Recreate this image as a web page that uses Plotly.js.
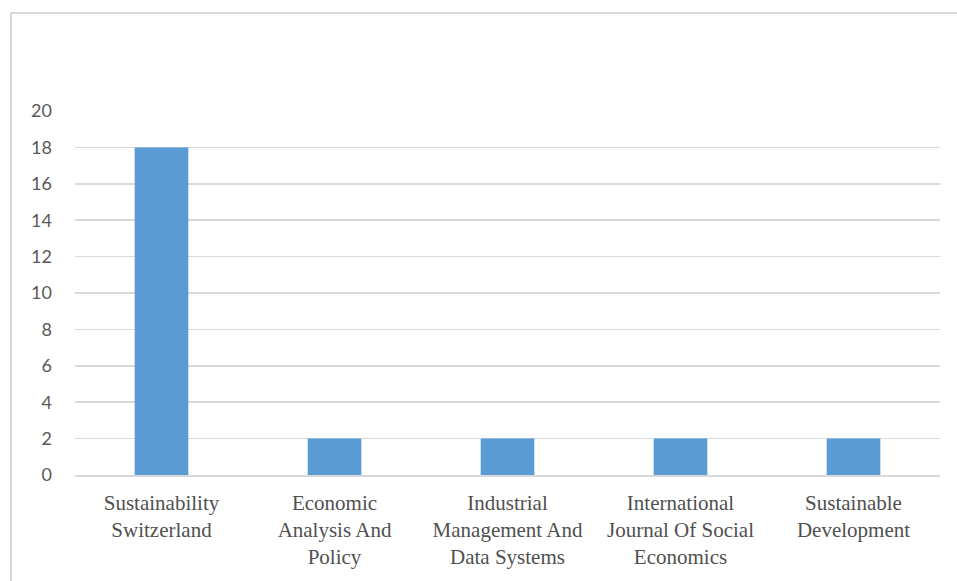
<!DOCTYPE html>
<html><head><meta charset="utf-8">
<script src="https://cdn.plot.ly/plotly-3.0.1.min.js"></script>
<style>
html,body{margin:0;padding:0;background:#fff;}
#frame{position:absolute;left:10px;top:12px;width:980px;height:600px;border:2px solid #d9d9d9;box-sizing:border-box;pointer-events:none;}
#chart{position:absolute;left:0;top:0;width:957px;height:581px;}
#chart .xtick text{font-family:"Liberation Serif","Times New Roman",serif !important;}
#chart .ytick text{font-family:"Lato",sans-serif !important;}
</style></head>
<body>
<div id="chart"></div>
<div id="frame"></div>
<script>
var categories = [
  "Sustainability<br>Switzerland",
  "Economic<br>Analysis And<br>Policy",
  "Industrial<br>Management And<br>Data Systems",
  "International<br>Journal Of Social<br>Economics",
  "Sustainable<br>Development"
];
var values = [18, 2, 2, 2, 2];
var yTicks = [0, 2, 4, 6, 8, 10, 12, 14, 16, 18, 20];

Plotly.newPlot('chart', [{
  type: 'bar',
  x: categories,
  y: values,
  marker: {color: '#5b9bd5'},
  hoverinfo: 'none'
}], {
  width: 957, height: 581,
  margin: {l: 75, r: 17, t: 111, b: 106},
  paper_bgcolor: 'rgba(0,0,0,0)',
  plot_bgcolor: 'rgba(0,0,0,0)',
  bargap: 0.69,
  showlegend: false,
  xaxis: {
    showgrid: false,
    showline: true,
    linecolor: '#d9d9d9',
    linewidth: 1.5,
    ticks: '',
    tickfont: {family: 'Liberation Serif', size: 21, color: '#505050'},
    ticklabelstandoff: 8
  },
  yaxis: {
    range: [0, 20],
    tickvals: yTicks,
    ticktext: yTicks.map(String),
    showgrid: true,
    gridcolor: '#d9d9d9',
    gridwidth: 1.5,
    zeroline: false,
    showline: false,
    ticks: '',
    tickfont: {family: 'Lato', size: 18, color: '#595959'},
    ticklabelstandoff: 22
  }
}, {staticPlot: true, displayModeBar: false});
</script>
</body></html>
